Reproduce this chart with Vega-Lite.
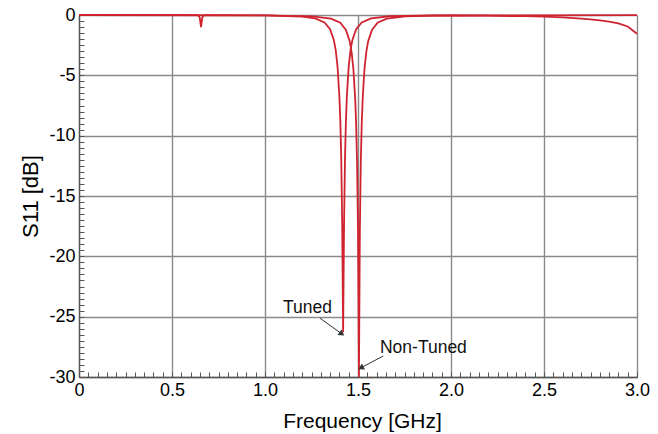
{
  "$schema": "https://vega.github.io/schema/vega-lite/v6.json",
  "autosize": "none",
  "width": 558,
  "height": 362,
  "padding": {"left": 79, "top": 15, "right": 21, "bottom": 57},
  "background": "white",
  "view": {"stroke": null},
  "config": {"font": "Liberation Sans"},
  "datasets": {
    "curves": [
      {"f": 0, "s11": 0, "series": "Tuned"},
      {"f": 0.6, "s11": -0.005, "series": "Tuned"},
      {"f": 1.0, "s11": -0.037, "series": "Tuned"},
      {"f": 1.2, "s11": -0.134, "series": "Tuned"},
      {"f": 1.27, "s11": -0.283, "series": "Tuned"},
      {"f": 1.32, "s11": -0.613, "series": "Tuned"},
      {"f": 1.35, "s11": -1.17, "series": "Tuned"},
      {"f": 1.37, "s11": -2.06, "series": "Tuned"},
      {"f": 1.38, "s11": -2.89, "series": "Tuned"},
      {"f": 1.39, "s11": -4.28, "series": "Tuned"},
      {"f": 1.4, "s11": -6.78, "series": "Tuned"},
      {"f": 1.405, "s11": -8.83, "series": "Tuned"},
      {"f": 1.41, "s11": -11.95, "series": "Tuned"},
      {"f": 1.415, "s11": -17.33, "series": "Tuned"},
      {"f": 1.42, "s11": -26.3, "series": "Tuned"},
      {"f": 1.425, "s11": -17.33, "series": "Tuned"},
      {"f": 1.43, "s11": -11.95, "series": "Tuned"},
      {"f": 1.435, "s11": -8.83, "series": "Tuned"},
      {"f": 1.44, "s11": -6.78, "series": "Tuned"},
      {"f": 1.45, "s11": -4.28, "series": "Tuned"},
      {"f": 1.46, "s11": -2.89, "series": "Tuned"},
      {"f": 1.47, "s11": -2.06, "series": "Tuned"},
      {"f": 1.49, "s11": -1.17, "series": "Tuned"},
      {"f": 1.52, "s11": -0.613, "series": "Tuned"},
      {"f": 1.57, "s11": -0.283, "series": "Tuned"},
      {"f": 1.67, "s11": -0.104, "series": "Tuned"},
      {"f": 1.82, "s11": -0.045, "series": "Tuned"},
      {"f": 2.0, "s11": -0.04, "series": "Tuned"},
      {"f": 2.2, "s11": -0.06, "series": "Tuned"},
      {"f": 2.4, "s11": -0.1, "series": "Tuned"},
      {"f": 2.5, "s11": -0.14, "series": "Tuned"},
      {"f": 2.6, "s11": -0.2, "series": "Tuned"},
      {"f": 2.7, "s11": -0.3, "series": "Tuned"},
      {"f": 2.75, "s11": -0.36, "series": "Tuned"},
      {"f": 2.8, "s11": -0.44, "series": "Tuned"},
      {"f": 2.85, "s11": -0.55, "series": "Tuned"},
      {"f": 2.9, "s11": -0.7, "series": "Tuned"},
      {"f": 2.95, "s11": -0.95, "series": "Tuned"},
      {"f": 3.0, "s11": -1.55, "series": "Tuned"},
      {"f": 0, "s11": 0, "series": "Non-Tuned"},
      {"f": 0.64, "s11": -0.02, "series": "Non-Tuned"},
      {"f": 0.649, "s11": -0.2, "series": "Non-Tuned"},
      {"f": 0.656, "s11": -1.0, "series": "Non-Tuned"},
      {"f": 0.663, "s11": -0.2, "series": "Non-Tuned"},
      {"f": 0.672, "s11": -0.02, "series": "Non-Tuned"},
      {"f": 1.0, "s11": -0.03, "series": "Non-Tuned"},
      {"f": 1.255, "s11": -0.11, "series": "Non-Tuned"},
      {"f": 1.355, "s11": -0.298, "series": "Non-Tuned"},
      {"f": 1.405, "s11": -0.644, "series": "Non-Tuned"},
      {"f": 1.435, "s11": -1.23, "series": "Non-Tuned"},
      {"f": 1.455, "s11": -2.15, "series": "Non-Tuned"},
      {"f": 1.465, "s11": -3.01, "series": "Non-Tuned"},
      {"f": 1.475, "s11": -4.43, "series": "Non-Tuned"},
      {"f": 1.485, "s11": -6.97, "series": "Non-Tuned"},
      {"f": 1.49, "s11": -9.06, "series": "Non-Tuned"},
      {"f": 1.495, "s11": -12.24, "series": "Non-Tuned"},
      {"f": 1.5, "s11": -17.86, "series": "Non-Tuned"},
      {"f": 1.505, "s11": -30, "series": "Non-Tuned"},
      {"f": 1.51, "s11": -17.86, "series": "Non-Tuned"},
      {"f": 1.515, "s11": -12.24, "series": "Non-Tuned"},
      {"f": 1.52, "s11": -9.06, "series": "Non-Tuned"},
      {"f": 1.525, "s11": -6.97, "series": "Non-Tuned"},
      {"f": 1.535, "s11": -4.43, "series": "Non-Tuned"},
      {"f": 1.545, "s11": -3.01, "series": "Non-Tuned"},
      {"f": 1.555, "s11": -2.15, "series": "Non-Tuned"},
      {"f": 1.575, "s11": -1.23, "series": "Non-Tuned"},
      {"f": 1.605, "s11": -0.644, "series": "Non-Tuned"},
      {"f": 1.655, "s11": -0.298, "series": "Non-Tuned"},
      {"f": 1.755, "s11": -0.11, "series": "Non-Tuned"},
      {"f": 1.905, "s11": -0.043, "series": "Non-Tuned"},
      {"f": 3.0, "s11": -0.01, "series": "Non-Tuned"}
    ],
    "labels": [
      {"label": "Tuned", "f": 1.097, "s11": -24.28},
      {"label": "Non-Tuned", "f": 1.618, "s11": -27.6}
    ],
    "arrows": [
      {"label": "Tuned", "f": 1.296, "s11": -25.13, "f_end": 1.409, "s11_end": -26.38},
      {"label": "Non-Tuned", "f": 1.636, "s11": -28.26, "f_end": 1.52, "s11_end": -29.2}
    ],
    "tips": [
      {"label": "Tuned", "f": 1.409, "s11": -26.38},
      {"label": "Non-Tuned", "f": 1.52, "s11": -29.2}
    ]
  },
  "encoding": {
    "x": {
      "field": "f", "type": "quantitative", "title": "Frequency [GHz]",
      "scale": {"domain": [0, 3], "nice": false, "zero": false},
      "axis": {
        "values": [0,0.05,0.1,0.15,0.2,0.25,0.3,0.35,0.4,0.45,0.5,0.55,0.6,0.65,0.7,0.75,0.8,0.85,0.9,0.95,1,1.05,1.1,1.15,1.2,1.25,1.3,1.35,1.4,1.45,1.5,1.55,1.6,1.65,1.7,1.75,1.8,1.85,1.9,1.95,2,2.05,2.1,2.15,2.2,2.25,2.3,2.35,2.4,2.45,2.5,2.55,2.6,2.65,2.7,2.75,2.8,2.85,2.9,2.95,3],
        "labelExpr": "abs(datum.value*2 - round(datum.value*2)) < 0.001 ? (datum.value == 0 ? '0' : format(datum.value, '.1f')) : ''",
        "gridOpacity": {"condition": {"test": "abs(datum.value*2 - round(datum.value*2)) < 0.001", "value": 1}, "value": 0},
        "grid": true,
        "gridColor": "#8a8a8a",
        "gridWidth": 1.4,
        "domainColor": "#555555",
        "domainWidth": 1.3,
        "tickColor": "#555555",
        "tickSize": -5,
        "tickWidth": 1,
        "labelOverlap": false,
        "labelFlush": false,
        "labelFont": "Liberation Sans",
        "labelFontSize": 18,
        "labelColor": "#000000",
        "labelPadding": 9,
        "titleFont": "Liberation Sans",
        "titleFontSize": 21,
        "titleFontWeight": "normal",
        "titleColor": "#000000",
        "titleX": 283,
        "titleY": 44,
        "titleBaseline": "middle"
      }
    },
    "y": {
      "field": "s11", "type": "quantitative", "title": "S11 [dB]",
      "scale": {"domain": [-30, 0], "nice": false, "zero": false},
      "axis": {
        "values": [-30,-29.5,-29,-28.5,-28,-27.5,-27,-26.5,-26,-25.5,-25,-24.5,-24,-23.5,-23,-22.5,-22,-21.5,-21,-20.5,-20,-19.5,-19,-18.5,-18,-17.5,-17,-16.5,-16,-15.5,-15,-14.5,-14,-13.5,-13,-12.5,-12,-11.5,-11,-10.5,-10,-9.5,-9,-8.5,-8,-7.5,-7,-6.5,-6,-5.5,-5,-4.5,-4,-3.5,-3,-2.5,-2,-1.5,-1,-0.5,0],
        "labelExpr": "abs(datum.value/5 - round(datum.value/5)) < 0.001 ? '' + datum.value : ''",
        "gridOpacity": {"condition": {"test": "abs(datum.value/5 - round(datum.value/5)) < 0.001", "value": 1}, "value": 0},
        "grid": true,
        "gridColor": "#8a8a8a",
        "gridWidth": 1.4,
        "domainColor": "#555555",
        "domainWidth": 1.3,
        "tickColor": "#555555",
        "tickSize": -5,
        "tickWidth": 1,
        "labelOverlap": false,
        "labelFlush": false,
        "labelFont": "Liberation Sans",
        "labelFontSize": 18,
        "labelColor": "#000000",
        "labelPadding": 9,
        "titleFont": "Liberation Sans",
        "titleFontSize": 22,
        "titleFontWeight": "normal",
        "titleColor": "#000000",
        "titleX": -49,
        "titleY": 181,
        "titleBaseline": "middle"
      }
    }
  },
  "layer": [
    {
      "data": {"name": "curves"},
      "mark": {"type": "line", "color": "#cf2430", "strokeWidth": 1.8, "interpolate": "linear"},
      "encoding": {
        "detail": {"field": "series"}
      }
    },
    {
      "data": {"name": "labels"},
      "mark": {"type": "text", "align": "left", "baseline": "middle", "fontSize": 17.5, "font": "Liberation Sans", "color": "#111111"},
      "encoding": {
        "text": {"field": "label"}
      }
    },
    {
      "data": {"name": "arrows"},
      "mark": {"type": "rule", "color": "#333333", "strokeWidth": 1},
      "encoding": {
        "x2": {"field": "f_end"},
        "y2": {"field": "s11_end"}
      }
    },
    {
      "data": {"name": "tips"},
      "transform": [{"filter": "datum.label == 'Tuned'"}],
      "mark": {"type": "point", "shape": "triangle", "filled": true, "color": "#333333", "size": 45, "angle": 126, "opacity": 1},
      "encoding": {}
    },
    {
      "data": {"name": "tips"},
      "transform": [{"filter": "datum.label == 'Non-Tuned'"}],
      "mark": {"type": "point", "shape": "triangle", "filled": true, "color": "#333333", "size": 45, "angle": 242, "opacity": 1},
      "encoding": {}
    }
  ]
}
